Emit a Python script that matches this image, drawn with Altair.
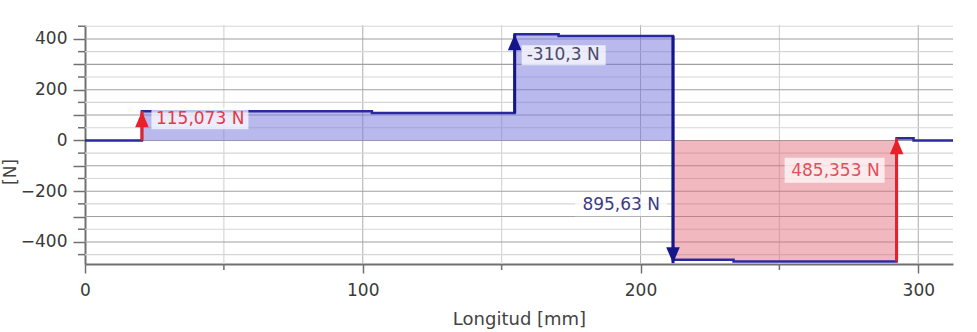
import altair as alt
import pandas as pd

# Shear-force diagram along the shaft (step function)
pos_mm = [0, 20.5, 103.3, 154.7, 170.5, 211.7, 233.5, 292.2, 298.3, 312.5]
shear_n = [0, 115.073, 108.0, 418.3, 412.0, -470.0, -477.0, 8.35, 0, 0]

# Point loads: position, signed magnitude, label
load_pos = [20.5, 154.7, 211.7, 292.2]
load_n = [115.073, 310.3, -895.63, 485.353]
load_text = ["115,073 N", "-310,3 N", "895,63 N", "485,353 N"]

# Axis ticks and grid
x_major = [0, 100, 200, 300]
x_minor = [50, 150, 250]
y_major = [-400, -300, -200, -100, 0, 100, 200, 300, 400]
y_minor = [-450, -350, -250, -150, -50, 50, 150, 250, 350, 450]

X_DOMAIN = [0, 312.5]
Y_DOMAIN = [-487, 455]
W, H = 868, 239
FONT = "DejaVu Sans"

xs = alt.Scale(domain=X_DOMAIN, nice=False, zero=False)
ys = alt.Scale(domain=Y_DOMAIN, nice=False, zero=False)
xax = alt.Axis(values=x_major, grid=False, tickSize=9, labelPadding=9,
               titlePadding=12, titleFontSize=18, labelFlush=False)
yax = alt.Axis(values=y_major, grid=False, tickSize=12, labelPadding=6,
               labelExpr="datum.value % 200 == 0 ? datum.label : ''")
XT = "Longitud [mm]"


def xenc(field):
    return alt.X(field, type="quantitative", scale=xs, axis=xax, title=XT)


def yenc(field):
    return alt.Y(field, type="quantitative", scale=ys, axis=yax, title=None)


shear = pd.DataFrame({"x": pos_mm, "v": shear_n})
shear["pos"] = shear["v"].clip(lower=0)
shear["neg"] = shear["v"].clip(upper=0)

base = [shear_n[pos_mm.index(p) - 1] for p in load_pos]
loads = pd.DataFrame({
    "x": load_pos,
    "y0": base,
    "y1": [b + f for b, f in zip(base, load_n)],
    "label": load_text,
    "dir": ["up" if f > 0 else "down" for f in load_n],
})

arrow_colors = ["#e8202a", "#16168c", "#16168c", "#e8202a"]
text_colors = ["#e03a48", "#4a4a68", "#3c3c84", "#e0505a"]
color_scale = alt.Scale(domain=load_text, range=arrow_colors)

# grid
hgrid = alt.Chart(pd.DataFrame({"y": y_major})).mark_rule(
    color="#a0a0a0", strokeWidth=1.1
).encode(y=yenc("y"))
hgrid_minor = alt.Chart(pd.DataFrame({"y": y_minor})).mark_rule(
    color="#d6d6d6", strokeWidth=1.1
).encode(y=yenc("y"))
vgrid = alt.Chart(pd.DataFrame({"x": x_major[1:]})).mark_rule(
    color="#b4b4b4", strokeWidth=1.1
).encode(x=xenc("x"))
vgrid_minor = alt.Chart(pd.DataFrame({"x": x_minor})).mark_rule(
    color="#d2d2d2", strokeWidth=1.1
).encode(x=xenc("x"))

# minor ticks outside the plot area
yticks_minor = alt.Chart(pd.DataFrame({"y": y_minor})).mark_rule(
    color="#707070", strokeWidth=1.5
).encode(y=yenc("y"), x=alt.value(-7), x2=alt.value(0))
xticks_minor = alt.Chart(pd.DataFrame({"x": x_minor})).mark_rule(
    color="#707070", strokeWidth=1.5
).encode(x=xenc("x"), y=alt.value(H), y2=alt.value(H + 6))

# filled areas
area_pos = alt.Chart(shear).mark_area(
    interpolate="step-after", color="#7474de", opacity=0.5
).encode(x=xenc("x"), y=yenc("pos"), y2=alt.datum(0))
area_neg = alt.Chart(shear).mark_area(
    interpolate="step-after", color="#e26272", opacity=0.45
).encode(x=xenc("x"), y=yenc("neg"), y2=alt.datum(0))

line = alt.Chart(shear).mark_line(
    interpolate="step-after", color="#2a2aa0", strokeWidth=2.5
).encode(x=xenc("x"), y=yenc("v"))

# arrows
shaft = alt.Chart(loads).mark_rule(strokeWidth=3).encode(
    x=xenc("x"), y=yenc("y0"), y2="y1:Q",
    color=alt.Color("label:N", scale=color_scale, legend=None),
)
head_up = "M0,0L0.85,2L-0.85,2Z"
head_down = "M0,0L0.85,-2L-0.85,-2Z"
heads = alt.Chart(loads).mark_point(filled=True, opacity=1, size=256, strokeWidth=0).encode(
    x=xenc("x"), y=yenc("y1"),
    shape=alt.Shape("dir:N", scale=alt.Scale(domain=["up", "down"], range=[head_up, head_down]),
                    legend=None),
    color=alt.Color("label:N", scale=color_scale, legend=None),
)

# label boxes and texts, placed relative to the arrow tips
label_style = [
    # box dx, box dy, box w, box h, text dx, text dy, align
    (58, 7, 97, 22, 14, 8, "left"),
    (49, 21, 84, 20, 12, 21, "left"),
    (-52, -58, 92, 22, -13, -58, "right"),
    (-62, 32, 100, 25, -17, 33, "right"),
]
label_layers = []
for i, (bdx, bdy, bw, bh, tdx, tdy, al) in enumerate(label_style):
    src = alt.Chart(loads).transform_filter(alt.datum.label == load_text[i])
    box = src.mark_rect(color="white", opacity=0.72, width=bw, height=bh,
                        xOffset=bdx, yOffset=bdy).encode(
        x=xenc("x"), y=yenc("y1"))
    txt = src.mark_text(font=FONT, fontSize=17, color=text_colors[i], align=al,
                        baseline="middle", dx=tdx, dy=tdy).encode(
        x=xenc("x"), y=yenc("y1"), text="label:N")
    label_layers += [box, txt]

ytitle = alt.Chart(pd.DataFrame({"t": ["[N]"]})).mark_text(
    font=FONT, fontSize=17, color="#444444", angle=270, align="center", baseline="middle"
).encode(text="t:N", x=alt.value(-74), y=alt.value(147))

chart = alt.layer(
    vgrid_minor, vgrid, hgrid_minor, hgrid,
    area_pos, area_neg, line,
    shaft, heads,
    *label_layers,
    yticks_minor, xticks_minor, ytitle,
).properties(
    width=W, height=H,
    autosize=alt.AutoSizeParams(type="none"),
    padding={"left": 85, "top": 25, "right": 24, "bottom": 68},
    background="white",
).configure_view(stroke=None).configure_axis(
    labelFont=FONT, labelFontSize=17, labelColor="#3a3a3a",
    titleFont=FONT, titleFontSize=17, titleColor="#444444", titleFontWeight="normal",
    domainColor="#707070", domainWidth=2, tickColor="#707070", tickWidth=1.5,
)

chart.save("out.html", embed_options={"renderer": "svg", "actions": False})
